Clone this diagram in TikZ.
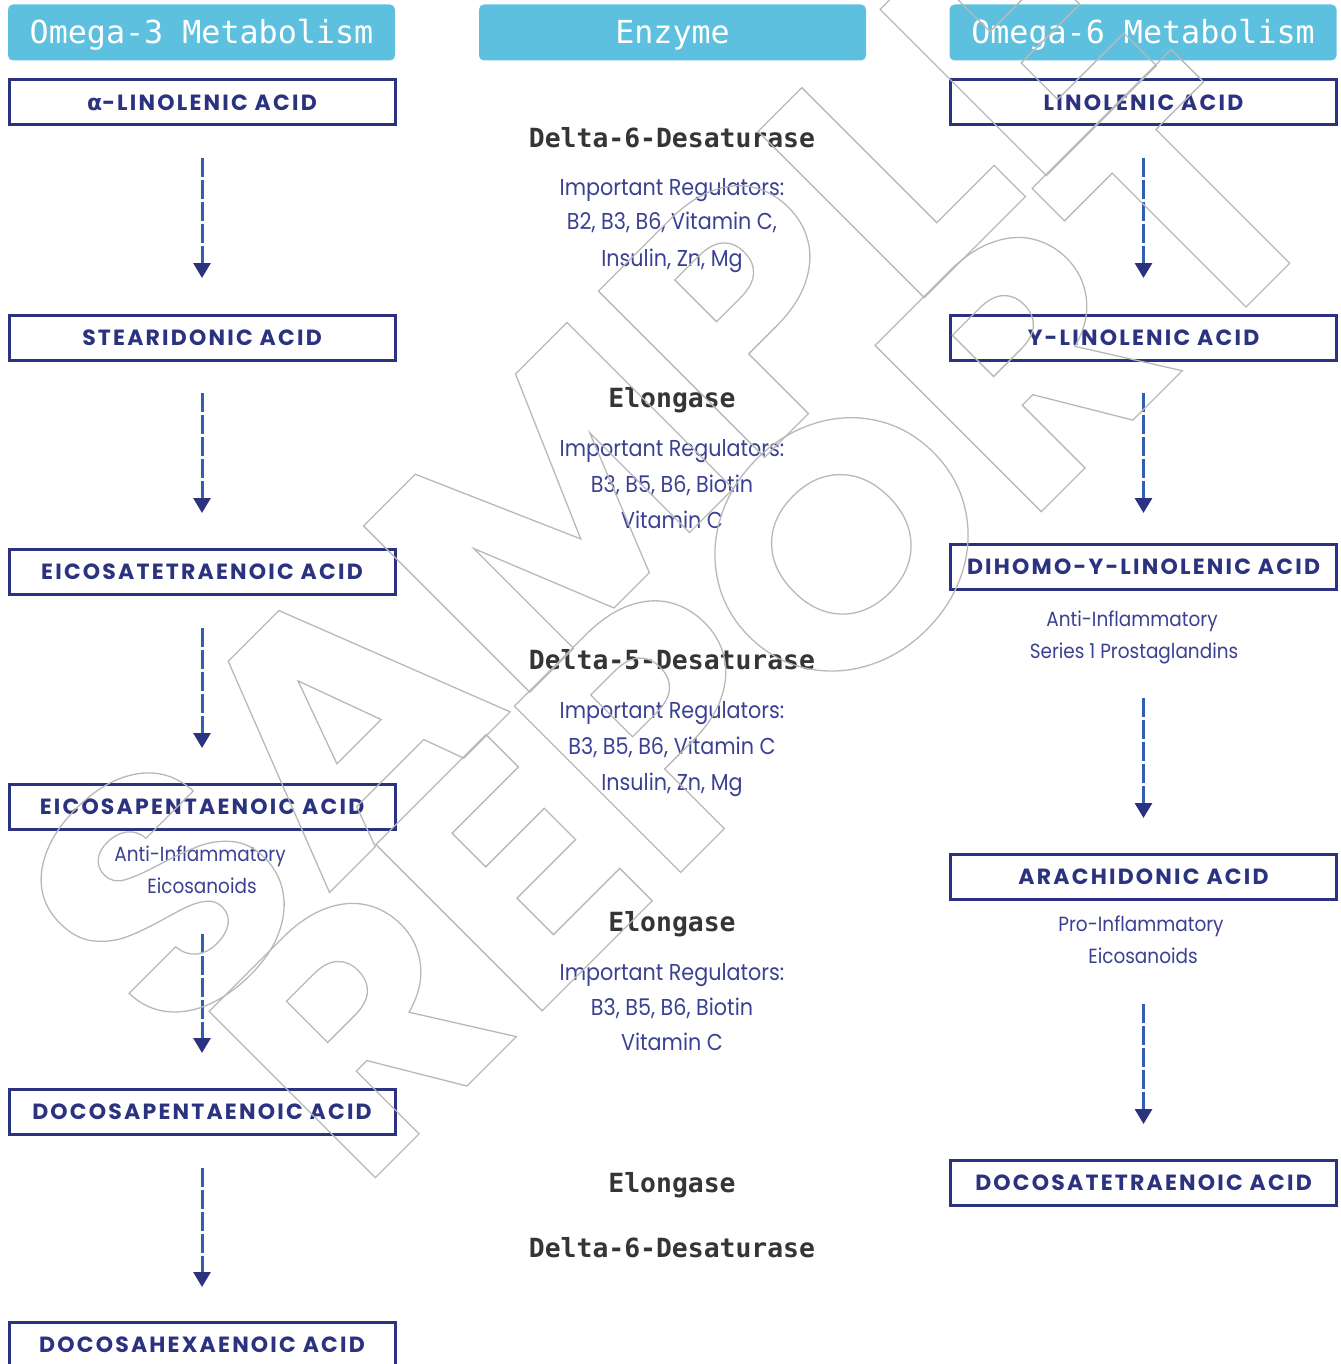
\documentclass[tikz,border=0pt]{standalone}
\usepackage{fontspec}
\usetikzlibrary{arrows.meta}
\setmainfont{Poppins}
\newfontfamily\monof{DejaVu Sans Mono}
\newfontfamily\geof{Poppins}[FakeStretch=0.9]
\newfontfamily\geosp{Poppins}[LetterSpace=10]
\newfontfamily\alphaf{DejaVu Sans}
\newfontfamily\wmf{Poppins}[FakeStretch=1.08]
\definecolor{hdrblue}{HTML}{5EC0DF}
\definecolor{navy}{HTML}{2B3380}
\definecolor{regc}{HTML}{3B4192}
\definecolor{enzc}{HTML}{353535}
\definecolor{arrc}{HTML}{3360AE}
\definecolor{wmgray}{HTML}{B8B8B8}
\tikzset{
  hdr/.style={fill=hdrblue, rounded corners=5, minimum width=387, minimum height=56,
    inner sep=0, outer sep=0, text=white, font=\monof\fontsize{31.7}{31.7}\selectfont,
    text height=22, text depth=0},
  acid/.style={draw=navy, line width=3, minimum width=386, minimum height=45,
    inner sep=0, outer sep=0, text=navy, font=\geosp\bfseries\fontsize{22}{22}\selectfont,
    text height=15.5, text depth=0},
  enz/.style={inner sep=0, text=enzc, font=\monof\bfseries\fontsize{26.4}{26.4}\selectfont,
    text height=19, text depth=0},
  reg/.style={inner sep=0, text=regc, font=\geof\fontsize{23}{23}\selectfont,
    text height=16, text depth=0},
  sub/.style={inner sep=0, text=regc, font=\geof\fontsize{20.5}{20.5}\selectfont,
    text height=14.3, text depth=0},
  flow/.style={draw=arrc, line width=3, dash pattern=on 19 off 3,
    -{Triangle[width=17,length=15,color=navy]}},
  wm/.style={inner sep=0, rotate=45, text=wmgray,
    font=\wmf\bfseries\fontsize{335}{335}\selectfont}
}
\newcommand{\outl}[1]{\special{pdf:literal direct 1 Tr 1.3 w}#1\special{pdf:literal direct 0 Tr}}
\begin{document}
\begin{tikzpicture}[x=1pt,y=-1pt]
\useasboundingbox (0,0) rectangle (1340,1364);
% headers
\node[hdr] (h1) at (201.5,32.5) {Omega-3 Metabolism};
\node[hdr] (h2) at (672.5,32.5) {Enzyme};
\node[hdr] (h3) at (1143,32.5) {Omega-6 Metabolism};
% omega-3 column
\node[acid] (a1) at (202,102.5) {{\alphaf\bfseries α}-LINOLENIC ACID};
\node[acid] (a2) at (202,337.5) {STEARIDONIC ACID};
\node[acid] (a3) at (202,571.5) {EICOSATETRAENOIC ACID};
\node[acid] (a4) at (202,806.5) {EICOSAPENTAENOIC ACID};
\node[acid] (a5) at (202,1112) {DOCOSAPENTAENOIC ACID};
\node[acid] (a6) at (202,1345) {DOCOSAHEXAENOIC ACID};
\node[sub] (s1) at (200,854) {Anti-Inflammatory};
\node[sub] (s2) at (202,886) {Eicosanoids};
% omega-6 column
\node[acid] (b1) at (1143.5,102.5) {LINOLENIC ACID};
\node[acid] (b2) at (1143.5,337.5) {Y-LINOLENIC ACID};
\node[acid] (b3) at (1143.5,567) {DIHOMO-Y-LINOLENIC ACID};
\node[acid] (b4) at (1143.5,877) {ARACHIDONIC ACID};
\node[acid] (b5) at (1143.5,1183) {DOCOSATETRAENOIC ACID};
\node[sub] (t1) at (1132,619) {Anti-Inflammatory};
\node[sub] (t2) at (1134,651) {Series 1 Prostaglandins};
\node[sub] (t3) at (1141,924) {Pro-Inflammatory};
\node[sub] (t4) at (1143,956) {Eicosanoids};
% enzymes
\node[enz] (e1) at (672,138) {Delta-6-Desaturase};
\node[reg] (r11) at (672,188) {Important Regulators:};
\node[reg] (r12) at (672,222) {B2, B3, B6, Vitamin C,};
\node[reg] (r13) at (672,258) {Insulin, Zn, Mg};
\node[enz] (e2) at (672,398) {Elongase};
\node[reg] (r21) at (672,448) {Important Regulators:};
\node[reg] (r22) at (672,484) {B3, B5, B6, Biotin};
\node[reg] (r23) at (672,520) {Vitamin C};
\node[enz] (e3) at (672,660) {Delta-5-Desaturase};
\node[reg] (r31) at (672,710) {Important Regulators:};
\node[reg] (r32) at (672,746) {B3, B5, B6, Vitamin C};
\node[reg] (r33) at (672,782) {Insulin, Zn, Mg};
\node[enz] (e4) at (672,922) {Elongase};
\node[reg] (r41) at (672,972) {Important Regulators:};
\node[reg] (r42) at (672,1007) {B3, B5, B6, Biotin};
\node[reg] (r43) at (672,1042) {Vitamin C};
\node[enz] (e5) at (672,1183) {Elongase};
\node[enz] (e6) at (672,1248) {Delta-6-Desaturase};
% arrows left
\draw[flow] ([yshift=-33]a1.south) -- ([yshift=37]a2.north);
\draw[flow] ([yshift=-33]a2.south) -- ([yshift=36]a3.north);
\draw[flow] ([yshift=-34]a3.south) -- ([yshift=36]a4.north);
\draw[flow] ([yshift=-105]a4.south) -- ([yshift=36.5]a5.north);
\draw[flow] ([yshift=-33.5]a5.south) -- ([yshift=35.5]a6.north);
% arrows right
\draw[flow] ([yshift=-33]b1.south) -- ([yshift=37]b2.north);
\draw[flow] ([yshift=-33]b2.south) -- ([yshift=31.5]b3.north);
\draw[flow] ([yshift=-108.5]b3.south) -- ([yshift=36.5]b4.north);
\draw[flow] ([yshift=-104.5]b4.south) -- ([yshift=36.5]b5.north);
% watermark
\node[wm] (w1) at (585,470) {\outl{SAMPLE}};
\node[wm] (w2) at (768,618) {\outl{REPORT}};
\end{tikzpicture}
\end{document}
